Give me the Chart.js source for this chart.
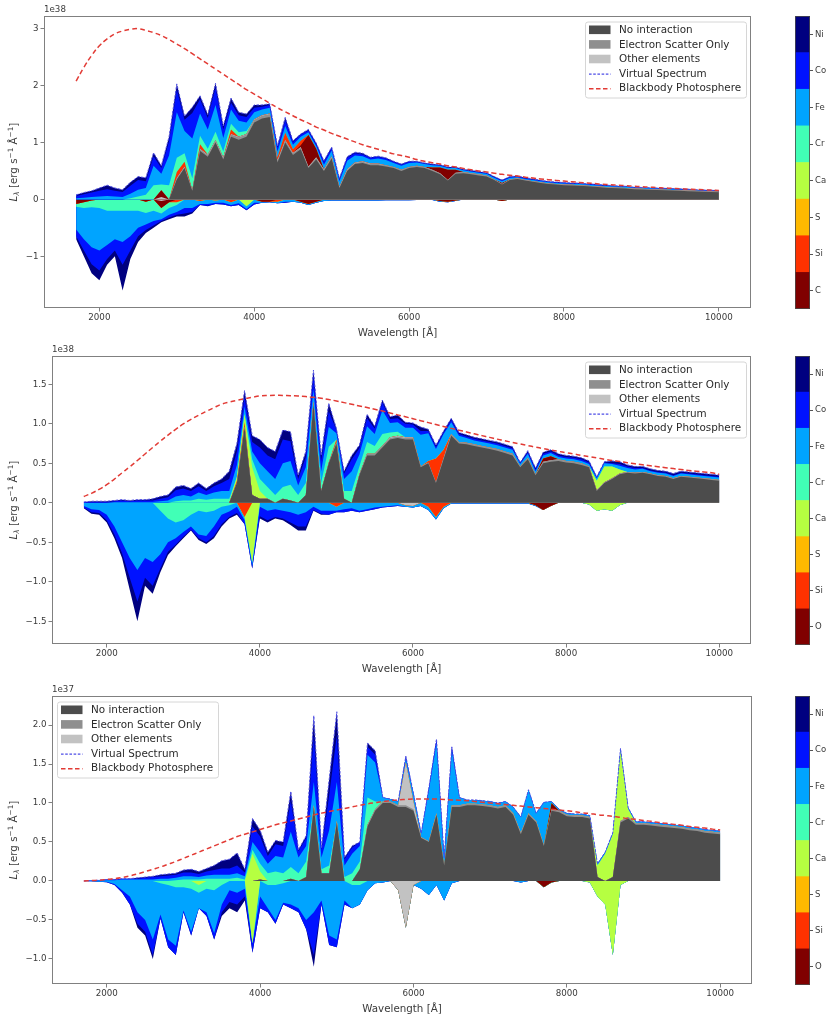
<!DOCTYPE html>
<html><head><meta charset="utf-8">
<script src="https://cdn.jsdelivr.net/npm/chart.js@4.4.1/dist/chart.umd.min.js"></script>
<style>
html,body{margin:0;padding:0;background:#fff;}
#wrap{position:relative;width:833px;height:1024px;overflow:hidden;background:#fff;}
canvas{position:absolute;}
</style></head>
<body><div id="wrap">
<canvas id="spec1" width="780" height="340" style="left:0px;top:0px;width:780px;height:340px"></canvas>
<canvas id="cbar1" width="53" height="340" style="left:780px;top:0px;width:53px;height:340px"></canvas>
<canvas id="spec2" width="780" height="340" style="left:0px;top:340px;width:780px;height:340px"></canvas>
<canvas id="cbar2" width="53" height="340" style="left:780px;top:340px;width:53px;height:340px"></canvas>
<canvas id="spec3" width="780" height="344" style="left:0px;top:680px;width:780px;height:344px"></canvas>
<canvas id="cbar3" width="53" height="344" style="left:780px;top:680px;width:53px;height:344px"></canvas>
</div>
<script>
// ---------------- DATA ----------------
const wavelengths = [
1700,1800,1900,2000,2100,2200,2300,2400,2500,2600,
2700,2800,2900,3000,3100,3200,3300,3400,3500,3600,
3700,3800,3900,4000,4100,4200,4300,4400,4500,4600,
4700,4800,4900,5000,5100,5200,5300,5400,5500,5600,
5700,5800,5900,6000,6100,6200,6300,6400,6500,6600,
6700,6800,6900,7000,7100,7200,7300,7400,7500,7600,
7700,7800,7900,8000,8100,8200,8300,8400,8500,8600,
8700,8800,8900,9000,9100,9200,9300,9400,9500,9600,
9700,9800,9900,10000];

const xTickValues = [2000,4000,6000,8000,10000];
const xTickLabels = ['2000','4000','6000','8000','10000'];

const p1YTickValues = [-1,0,1,2,3];
const p1YTickLabels = ['\u22121','0','1','2','3'];
const p2YTickValues = [-1.5,-1,-0.5,0,0.5,1,1.5];
const p2YTickLabels = ['\u22121.5','\u22121.0','\u22120.5','0.0','0.5','1.0','1.5'];
const p3YTickValues = [-1,-0.5,0,0.5,1,1.5,2];
const p3YTickLabels = ['\u22121.0','\u22120.5','0.0','0.5','1.0','1.5','2.0'];

const p1Exponent = '1e38';
const p2Exponent = '1e38';
const p3Exponent = '1e37';

const p1ColorbarLabels = ['C','Si','S','Ca','Cr','Fe','Co','Ni'];
const p2ColorbarLabels = ['O','Si','S','Ca','Cr','Fe','Co','Ni'];
const p3ColorbarLabels = ['O','Si','S','Ca','Cr','Fe','Co','Ni'];
const colorbarCells = [1,1,1,1,1,1,1,1];
const colorbarTickValues = [0.5,1.5,2.5,3.5,4.5,5.5,6.5,7.5];

const legendLabels = ['No interaction','Electron Scatter Only','Other elements','Virtual Spectrum','Blackbody Photosphere'];
const xAxisTitle = 'Wavelength [\u00c5]';

// ---- Panel 1 (units of 1e38 erg/s/A) ----
const p1Blackbody = [
2.08,2.32,2.53,2.70,2.82,2.91,2.96,2.99,3.0,2.97,
2.93,2.88,2.81,2.73,2.65,2.56,2.47,2.38,2.29,2.2,
2.11,2.02,1.93,1.85,1.77,1.69,1.61,1.54,1.47,1.40,
1.34,1.27,1.22,1.16,1.11,1.06,1.01,0.96,0.92,0.88,
0.84,0.80,0.77,0.74,0.70,0.67,0.645,0.62,0.59,0.57,
0.545,0.52,0.50,0.48,0.46,0.44,0.425,0.41,0.39,0.375,
0.36,0.347,0.334,0.322,0.31,0.298,0.288,0.277,0.267,0.258,
0.249,0.24,0.231,0.223,0.215,0.208,0.201,0.194,0.187,0.181,
0.175,0.169,0.163,0.158];
const p1NoInteraction = [
0,0,0,0,0,0,0,0,0,0,
0,0,0,0.35,0.55,0.15,0.85,0.75,1.0,0.7,
1.1,1.05,1.1,1.35,1.42,1.45,0.65,1.0,0.78,0.88,
0.55,0.7,0.5,0.72,0.2,0.5,0.62,0.64,0.6,0.6,
0.58,0.55,0.5,0.55,0.57,0.55,0.5,0.44,0.33,0.45,
0.46,0.44,0.42,0.4,0.34,0.26,0.34,0.36,0.33,0.31,
0.29,0.27,0.26,0.25,0.245,0.24,0.23,0.22,0.21,0.2,
0.195,0.19,0.18,0.175,0.17,0.165,0.16,0.155,0.15,0.145,
0.14,0.135,0.13,0.125];
const p1EScatter = [
0,0,0,0,0,0,0,0,0,0,
0,0,0,0.02,0.02,0.01,0.03,0.03,0.03,0.03,
0.04,0.04,0.04,0.05,0.05,0.05,0.03,0.04,0.03,0.03,
0.02,0.03,0.02,0.03,0.01,0.02,0.02,0.02,0.02,0.02,
0.02,0.02,0.02,0.02,0.02,0.02,0.02,0.02,0.01,0.02,
0.02,0.02,0.02,0.02,0.01,0.01,0.01,0.01,0.01,0.01,
0.01,0.01,0.01,0.01,0.01,0.01,0.01,0.01,0.01,0.01,
0.01,0.01,0.01,0.01,0.01,0.01,0.01,0.01,0.01,0.01,
0.01,0.01,0.01,0.01];
const p1Other = [
0,0,0,0,0,0,0,0,0,0,
0,0.04,0,0.01,0.01,0.01,0.01,0.01,0.01,0.01,
0.01,0.01,0.01,0.01,0.01,0.01,0.01,0.01,0.01,0.01,
0.01,0.01,0.01,0.01,0.01,0.01,0.01,0.01,0.01,0.01,
0,0,0,0,0,0,0,0,0,0,
0,0,0,0,0,0,0,0,0,0,
0,0,0,0,0,0,0,0,0,0,
0,0,0,0,0,0,0,0,0,0,
0,0,0,0];
const p1EmC = [
0,0,0,0,0,0,0,0,0,0,
0,0.12,0,0,0,0,0,0,0,0,
0,0,0,0,0,0,0,0,0,0.03,
0.55,0.15,0,0,0,0,0,0,0,0,
0,0,0,0,0,0,0.04,0.1,0.18,0.05,
0,0,0,0,0,0.02,0,0,0,0,
0,0,0,0,0,0,0,0,0,0,
0,0,0,0,0,0,0,0,0,0,
0,0,0,0];
const p1EmSi = [
0,0,0,0,0,0,0,0,0,0,
0,0,0,0.1,0.08,0,0.08,0,0,0,
0.08,0,0,0,0,0,0.05,0.12,0.06,0.08,
0,0,0,0,0,0,0,0,0,0,
0,0,0,0,0,0,0,0,0,0,
0,0,0,0,0,0,0,0,0,0,
0,0,0,0,0,0,0,0,0,0,
0,0,0,0,0,0,0,0,0,0,
0,0,0,0];
const p1EmCr = [
0,0,0,0,0,0,0,0.02,0.05,0.08,
0.25,0.1,0.25,0.25,0.15,0.2,0.15,0.1,0.15,0.1,
0.1,0.08,0.05,0,0,0,0,0,0,0,
0,0,0,0,0,0,0,0,0,0,
0,0,0,0,0,0,0,0,0,0,
0,0,0,0,0,0,0,0,0,0,
0,0,0,0,0,0,0,0,0,0,
0,0,0,0,0,0,0,0,0,0,
0,0,0,0];
const p1EmFe = [
0.02,0.03,0.04,0.05,0.06,0.05,0.04,0.08,0.12,0.12,
0.34,0.19,0.52,0.8,0.39,0.7,0.39,0.34,0.47,0.24,
0.25,0.2,0.15,0.12,0.1,0.1,0.1,0.12,0.08,0.07,
0.05,0.05,0.08,0.1,0.1,0.15,0.12,0.09,0.07,0.09,
0.09,0.07,0.07,0.07,0.06,0.05,0.04,0.03,0.03,0.03,
0.03,0.03,0.03,0.03,0.03,0.03,0.03,0.02,0.02,0.02,
0.02,0.02,0.02,0.02,0.02,0.02,0.02,0.02,0.02,0.02,
0.02,0.02,0.015,0.015,0.015,0.015,0.015,0.015,0.015,0.015,
0.01,0.01,0.01,0.01];
const p1EmCo = [
0.04,0.06,0.08,0.1,0.12,0.1,0.09,0.14,0.17,0.12,
0.17,0.1,0.25,0.4,0.2,0.45,0.25,0.2,0.3,0.15,
0.12,0.1,0.1,0.08,0.05,0.05,0.07,0.1,0.05,0.04,
0.03,0.03,0.05,0.04,0.03,0.05,0.04,0.03,0.03,0.03,
0.03,0.02,0.02,0.02,0.01,0.01,0.01,0.01,0.01,0.01,
0.01,0.01,0.01,0.01,0.01,0.01,0.01,0.01,0.01,0.01,
0.01,0.01,0.01,0.01,0.01,0.01,0.01,0.01,0.01,0.01,
0.005,0.005,0.005,0.005,0.005,0.005,0.005,0.005,0.005,0.005,
0.005,0.005,0.005,0.005];
const p1EmNi = [
0.02,0.03,0.03,0.05,0.07,0.05,0.04,0.06,0.06,0.06,
0.06,0.04,0.08,0.1,0.06,0.1,0.06,0.06,0.08,0.06,
0.08,0.05,0.05,0.05,0.03,0.02,0.03,0.05,0.02,0.01,
0.02,0.02,0.02,0.02,0.02,0.02,0.02,0.02,0.01,0.01,
0.01,0.01,0.01,0.01,0.01,0.01,0.01,0.01,0.01,0.01,
0.01,0.01,0.01,0.01,0.01,0.01,0.01,0.01,0.01,0.01,
0.005,0.005,0.005,0.005,0.005,0.005,0.005,0.005,0.005,0.005,
0.005,0.005,0.005,0.005,0.005,0.005,0.005,0.005,0.005,0.005,
0.005,0.005,0.005,0.005];
const p1AbOther = [
0,0,0,0,0,0,0,0,0,0,
0,-0.03,0,0,0,0,0,0,0,0,
0,0,0,0,0,0,0,0,0,0,
0,0,0,0,0,0,0,0,0,0,
0,0,0,0,0,0,0,0,0,0,
0,0,0,0,0,0,0,0,0,0,
0,0,0,0,0,0,0,0,0,0,
0,0,0,0,0,0,0,0,0,0,
0,0,0,0];
const p1AbC = [
-0.08,-0.05,-0.02,0,0,0,0,0,0,-0.04,
0,-0.12,-0.05,0,0,0,0,0,0,0,
0,0,0,0,-0.04,-0.04,0,0,0,-0.04,
-0.08,-0.04,0,0,0,0,0,0,0,0,
0,0,0,0,0,0,0,-0.03,-0.04,-0.02,
0,0,0,0,0,-0.03,0,0,0,0,
0,0,0,0,0,0,0,0,0,0,
0,0,0,0,0,0,0,0,0,0,
0,0,0,0];
const p1AbSi = [
0,0,0,0,0,0,0,0,0,0,
0,0,0,-0.05,0,0,-0.03,0,-0.02,0,
-0.05,0,0,0,0,0,-0.04,0,0,0,
0,0,0,0,0,0,0,0,0,0,
0,0,0,0,0,0,0,0,0,0,
0,0,0,0,0,0,0,0,0,0,
0,0,0,0,0,0,0,0,0,0,
0,0,0,0,0,0,0,0,0,0,
0,0,0,0];
const p1AbCa = [
0,0,0,0,0,0,0,0,0,0,
0,0,0,0,0,0,0,0,0,0,
0,0,-0.12,0,0,0,0,0,0,0,
0,0,0,0,0,0,0,0,0,0,
0,0,0,0,0,0,0,0,0,0,
0,0,0,0,0,0,0,0,0,0,
0,0,0,0,0,0,0,0,0,0,
0,0,0,0,0,0,0,0,0,0,
0,0,0,0];
const p1AbCr = [
-0.05,-0.1,-0.12,-0.15,-0.2,-0.2,-0.2,-0.2,-0.2,-0.2,
-0.2,-0.1,-0.1,-0.05,0,0,0,0,0,0,
0,0,0,0,0,0,0,0,0,0,
0,0,0,0,0,0,0,0,0,0,
0,0,0,0,0,0,0,0,0,0,
0,0,0,0,0,0,0,0,0,0,
0,0,0,0,0,0,0,0,0,0,
0,0,0,0,0,0,0,0,0,0,
0,0,0,0];
const p1AbFe = [
-0.4,-0.55,-0.7,-0.75,-0.6,-0.5,-0.55,-0.45,-0.3,-0.2,
-0.18,-0.1,-0.12,-0.12,-0.15,-0.15,-0.05,-0.08,-0.04,-0.06,
-0.05,-0.07,-0.05,-0.06,-0.02,-0.01,-0.03,-0.04,-0.04,-0.02,
-0.02,-0.02,-0.03,-0.02,-0.02,-0.02,-0.02,-0.02,-0.02,-0.02,
-0.015,-0.015,-0.015,-0.015,-0.01,-0.01,-0.01,-0.01,-0.01,-0.01,
0,0,0,0,0,0,0,0,0,0,
0,0,0,0,0,0,0,0,0,0,
0,0,0,0,0,0,0,0,0,0,
0,0,0,0];
const p1AbCo = [
-0.12,-0.2,-0.3,-0.35,-0.25,-0.2,-0.4,-0.25,-0.15,-0.1,
-0.08,-0.03,-0.05,-0.05,-0.1,-0.07,-0.02,-0.03,-0.02,-0.03,
-0.02,-0.03,-0.02,-0.03,0,0,0,-0.02,0,0,
0,0,0,0,0,0,0,0,0,0,
0,0,0,0,0,0,0,0,0,0,
0,0,0,0,0,0,0,0,0,0,
0,0,0,0,0,0,0,0,0,0,
0,0,0,0,0,0,0,0,0,0,
0,0,0,0];
const p1AbNi = [
-0.05,-0.1,-0.16,-0.17,-0.1,-0.1,-0.45,-0.15,-0.1,-0.05,
-0.04,-0.02,-0.03,-0.03,-0.05,-0.03,0,-0.01,0,0,
0,0,0,0,0,0,0,0,0,0,
0,0,0,0,0,0,0,0,0,0,
0,0,0,0,0,0,0,0,0,0,
0,0,0,0,0,0,0,0,0,0,
0,0,0,0,0,0,0,0,0,0,
0,0,0,0,0,0,0,0,0,0,
0,0,0,0];

// ---- Panel 2 (units of 1e38) ----
const p2Blackbody = [
0.08,0.12,0.17,0.23,0.30,0.38,0.455,0.535,0.618,0.70,
0.78,0.857,0.93,0.998,1.055,1.108,1.157,1.204,1.248,1.275,
1.297,1.317,1.335,1.352,1.358,1.36,1.359,1.356,1.351,1.344,
1.335,1.322,1.307,1.289,1.268,1.247,1.226,1.205,1.183,1.161,
1.137,1.113,1.089,1.064,1.039,1.015,0.99,0.966,0.942,0.919,
0.896,0.873,0.85,0.828,0.806,0.785,0.764,0.744,0.724,0.705,
0.686,0.668,0.651,0.634,0.618,0.601,0.585,0.568,0.552,0.536,
0.522,0.508,0.494,0.481,0.469,0.457,0.445,0.433,0.421,0.41,
0.4,0.39,0.38,0.36];
const p2NoInteraction = [
0,0,0,0,0,0,0,0,0,0,
0,0,0,0,0,0,0,0,0,0,
0.25,0.95,0.1,0.05,0.05,0,0.05,0.03,0,0.1,
1.25,0.15,0.5,0.75,0.05,0,0.35,0.6,0.6,0.7,
0.8,0.82,0.8,0.8,0.45,0.5,0.25,0.55,0.85,0.75,
0.74,0.72,0.7,0.68,0.66,0.63,0.6,0.45,0.55,0.35,
0.5,0.52,0.53,0.51,0.5,0.48,0.45,0.15,0.25,0.3,
0.36,0.38,0.37,0.38,0.36,0.34,0.33,0.3,0.33,0.32,
0.31,0.3,0.29,0.28];
const p2EScatter = [
0,0,0,0,0,0,0,0,0,0,
0,0,0,0,0,0,0,0,0,0,
0,0.02,0,0,0,0,0,0,0,0,
0.03,0,0.01,0.02,0,0,0.01,0.02,0.02,0.02,
0.02,0.02,0.02,0.02,0.01,0.01,0.01,0.02,0.02,0.02,
0.02,0.02,0.02,0.02,0.02,0.02,0.02,0.01,0.02,0.01,
0.02,0.02,0.02,0.02,0.02,0.02,0.01,0.01,0.01,0.01,
0.01,0.01,0.01,0.01,0.01,0.01,0.01,0.01,0.01,0.01,
0.01,0.01,0.01,0.01];
const p2Other = [
0,0,0,0,0,0,0,0,0,0,
0,0,0,0,0,0,0,0,0,0,
0,0,0,0,0,0,0,0,0,0,
0,0,0,0,0,0,0,0,0,0,
0.01,0.01,0.01,0.01,0,0,0,0,0,0,
0,0,0,0,0,0,0,0,0,0,
0,0,0,0,0,0,0,0,0,0,
0,0,0,0,0,0,0,0,0,0,
0,0,0,0];
const p2EmO = [
0,0,0,0,0,0,0,0,0,0,
0,0,0,0,0,0,0,0,0,0,
0,0,0,0,0,0,0,0,0,0,
0,0,0,0,0,0,0,0,0,0,
0,0,0,0,0,0,0,0,0,0,
0,0,0,0,0,0,0,0,0,0,
0.04,0.05,0,0,0,0,0,0,0,0,
0,0,0,0,0,0,0,0,0,0,
0,0,0,0];
const p2EmSi = [
0,0,0,0,0,0,0,0,0,0,
0,0,0,0,0,0,0,0,0,0,
0.03,0.05,0,0,0,0,0,0,0,0,
0,0,0,0.03,0,0,0,0,0,0,
0,0,0,0,0,0.02,0.3,0.1,0,0,
0,0,0,0,0,0,0,0,0,0,
0,0,0,0,0,0,0,0,0,0,
0,0,0,0,0,0,0,0,0,0,
0,0,0,0];
const p2EmCa = [
0,0,0,0,0,0,0,0,0,0,
0,0,0,0,0,0,0,0,0,0,
0.05,0.1,0.35,0.1,0,0,0,0,0,0,
0,0,0,0,0,0,0,0,0,0,
0,0,0,0,0,0,0,0,0,0,
0,0,0,0,0,0,0,0,0,0,
0,0,0,0,0,0,0,0.12,0.2,0.15,
0.05,0,0,0,0,0,0,0,0,0,
0,0,0,0];
const p2EmCr = [
0,0,0,0,0,0,0,0,0,0,
0,0,0.02,0.03,0.03,0.05,0.04,0.05,0.05,0.05,
0,0,0.1,0.15,0.15,0.1,0.15,0.2,0.1,0.15,
0,0.1,0.2,0,0.1,0.15,0.1,0.15,0.1,0.15,
0.06,0.05,0,0,0,0,0,0,0,0,
0,0,0,0,0,0,0,0,0,0,
0,0,0,0,0,0,0,0,0,0,
0,0,0,0,0,0,0,0,0,0,
0,0,0,0];
const p2EmFe = [
0,0,0,0,0.01,0.01,0.01,0.01,0.01,0.01,
0.02,0.03,0.06,0.07,0.05,0.08,0.06,0.08,0.1,0.1,
0.15,0.1,0.1,0.2,0.2,0.2,0.3,0.3,0.12,0.2,
0.15,0.15,0.25,0.08,0.15,0.25,0.15,0.2,0.15,0.3,
0.12,0.12,0.12,0.12,0.4,0.35,0.12,0.2,0.15,0.08,
0.06,0.05,0.05,0.05,0.05,0.05,0.05,0.03,0.05,0.04,
0.04,0.04,0.03,0.03,0.03,0.03,0.03,0.03,0.04,0.03,
0.05,0.05,0.04,0.04,0.03,0.03,0.03,0.03,0.03,0.03,
0.03,0.03,0.03,0.03];
const p2EmCo = [
0.01,0.01,0.01,0.01,0.01,0.02,0.01,0.02,0.02,0.02,
0.03,0.04,0.08,0.08,0.07,0.08,0.05,0.08,0.1,0.15,
0.17,0.12,0.12,0.2,0.2,0.25,0.3,0.25,0.08,0.13,
0.17,0.13,0.2,0.04,0.07,0.15,0.08,0.1,0.07,0.1,
0.05,0.05,0.05,0.04,0.05,0.03,0.03,0.02,0.03,0.02,
0.02,0.02,0.02,0.02,0.02,0.02,0.02,0.01,0.02,0.02,
0.02,0.02,0.02,0.02,0.02,0.02,0.02,0.01,0.01,0.01,
0.02,0.02,0.02,0.01,0.01,0.01,0.01,0.01,0.01,0.01,
0.01,0.01,0.01,0.01];
const p2EmNi = [
0,0.01,0.01,0.01,0.01,0.01,0.01,0.01,0.01,0.02,
0.03,0.03,0.04,0.04,0.03,0.04,0.03,0.04,0.05,0.1,
0.1,0.08,0.08,0.1,0.1,0.1,0.12,0.12,0.05,0.07,
0.08,0.07,0.1,0.02,0.03,0.05,0.04,0.05,0.03,0.03,
0.03,0.04,0.02,0.02,0.05,0.02,0.02,0.02,0.02,0.02,
0.02,0.02,0.02,0.02,0.02,0.02,0.02,0.01,0.02,0.02,
0.02,0.02,0.02,0.02,0.02,0.02,0.02,0.01,0.01,0.03,
0.03,0.02,0.02,0.02,0.02,0.02,0.02,0.02,0.02,0.02,
0.02,0.02,0.02,0.02];
const p2AbOther = [
0,0,0,0,0,0,0,0,0,0,
0,0,0,0,0,0,0,0,0,0,
0,0,0,0,0,0,0,0,0,0,
0,0,0,0,0,0,0,0,0,0,
0,0,-0.03,-0.04,0,0,0,0,0,0,
0,0,0,0,0,0,0,0,0,0,
0,0,0,0,0,0,0,0,0,0,
0,0,0,0,0,0,0,0,0,0,
0,0,0,0];
const p2AbO = [
0,0,0,0,0,0,0,0,0,0,
0,0,0,0,0,0,0,0,0,0,
0,0,0,0,0,0,0,0,0,0,
0,0,0,0,0,0,0,0,0,0,
0,0,0,0,0,0,0,0,0,0,
0,0,0,0,0,0,0,0,0,-0.03,
-0.09,-0.04,0,0,0,0,0,0,0,0,
0,0,0,0,0,0,0,0,0,0,
0,0,0,0];
const p2AbSi = [
0,0,0,0,0,0,0,0,0,0,
0,0,0,0,0,0,0,0,0,0,
0,-0.18,0,0,0,0,0,0,0,0,
0,0,0,-0.05,0,0,0,0,0,0,
0,0,0,0,0,-0.05,-0.18,-0.05,0,0,
0,0,0,0,0,0,0,0,0,0,
0,0,0,0,0,0,0,0,0,0,
0,0,0,0,0,0,0,0,0,0,
0,0,0,0];
const p2AbCa = [
0,0,0,0,0,0,0,0,0,0,
0,0,0,0,0,0,0,0,0,0,
0,0,-0.75,0,0,0,0,0,0,0,
0,0,0,0,0,0,0,0,0,0,
0,0,0,0,0,0,0,0,0,0,
0,0,0,0,0,0,0,0,0,0,
0,0,0,0,0,0,-0.02,-0.1,-0.08,-0.1,
-0.03,0,0,0,0,0,0,0,0,0,
0,0,0,0];
const p2AbCr = [
0,0,0,0,0,0,0,0,0,0,
-0.1,-0.2,-0.25,-0.22,-0.15,-0.1,-0.12,-0.1,-0.05,-0.03,
0,0,0,0,0,0,0,0,0,0,
0,0,0,0,0,0,0,0,0,0,
0,0,0,0,0,0,0,0,0,0,
0,0,0,0,0,0,0,0,0,0,
0,0,0,0,0,0,0,0,0,0,
0,0,0,0,0,0,0,0,0,0,
0,0,0,0];
const p2AbFe = [
-0.04,-0.08,-0.09,-0.15,-0.3,-0.5,-0.7,-0.85,-0.7,-0.75,
-0.55,-0.3,-0.2,-0.15,-0.15,-0.3,-0.3,-0.2,-0.1,-0.08,
-0.05,-0.04,-0.05,-0.05,-0.1,-0.08,-0.1,-0.12,-0.15,-0.12,
-0.05,-0.1,-0.1,-0.05,-0.08,-0.07,-0.1,-0.08,-0.06,-0.05,
-0.04,-0.03,-0.02,-0.02,-0.04,-0.04,-0.03,-0.02,-0.01,-0.01,
-0.01,-0.01,-0.01,-0.01,-0.01,-0.01,-0.01,-0.01,-0.01,-0.01,
0,0,0,0,0,0,0,0,0,0,
0,0,0,0,0,0,0,0,0,0,
0,0,0,0];
const p2AbCo = [
-0.02,-0.04,-0.04,-0.07,-0.1,-0.14,-0.25,-0.4,-0.25,-0.3,
-0.18,-0.12,-0.08,-0.06,-0.04,-0.05,-0.08,-0.12,-0.12,-0.07,
-0.08,-0.05,-0.03,-0.12,-0.12,-0.1,-0.1,-0.13,-0.15,-0.18,
-0.04,-0.04,-0.05,-0.02,-0.04,-0.03,-0.02,-0.02,-0.02,-0.01,
-0.01,-0.01,0,0,0,0,0,0,0,0,
0,0,0,0,0,0,0,0,0,0,
0,0,0,0,0,0,0,0,0,0,
0,0,0,0,0,0,0,0,0,0,
0,0,0,0];
const p2AbNi = [
-0.01,-0.02,-0.02,-0.03,-0.05,-0.06,-0.15,-0.25,-0.1,-0.1,
-0.05,-0.04,-0.02,-0.02,-0.01,-0.02,-0.02,-0.03,-0.03,-0.02,
-0.02,0,0,-0.03,-0.03,-0.02,-0.02,-0.03,-0.05,-0.05,
-0.01,-0.01,0,0,0,0,0,0,0,0,
0,0,0,0,0,0,0,0,0,0,
0,0,0,0,0,0,0,0,0,0,
0,0,0,0,0,0,0,0,0,0,
0,0,0,0,0,0,0,0,0,0,
0,0,0,0];

// ---- Panel 3 (units of 1e37) ----
const p3Blackbody = [
0.0,0.005,0.01,0.02,0.03,0.045,0.065,0.09,0.12,0.15,
0.18,0.215,0.25,0.29,0.33,0.37,0.41,0.45,0.49,0.53,
0.57,0.6,0.63,0.66,0.69,0.72,0.745,0.77,0.795,0.82,
0.845,0.87,0.89,0.91,0.93,0.95,0.97,0.99,1.005,1.02,
1.03,1.04,1.045,1.05,1.05,1.05,1.05,1.045,1.04,1.035,
1.03,1.02,1.01,1.0,0.99,0.98,0.97,0.96,0.95,0.94,
0.93,0.92,0.91,0.9,0.89,0.875,0.865,0.85,0.84,0.83,
0.815,0.8,0.79,0.776,0.765,0.75,0.74,0.725,0.715,0.7,
0.69,0.68,0.665,0.655];
const p3NoInteraction = [
0,0,0,0,0,0,0,0,0,0,
0,0,0,0,0,0,0,0,0,0,
0,0,0,0.02,0,0,0,0.03,0,0.05,
0.95,0.1,0.1,0.75,0,0,0.15,0.7,0.9,1.0,
1.0,0.95,0.95,0.9,0.55,0.5,0.85,0.2,0.95,0.95,
0.97,0.97,0.96,0.95,0.93,0.95,0.85,0.6,0.85,0.75,
0.45,0.9,0.88,0.83,0.82,0.82,0.8,0.05,0,0.05,
0.75,0.8,0.72,0.72,0.71,0.7,0.69,0.68,0.67,0.65,
0.64,0.62,0.61,0.6];
const p3EScatter = [
0,0,0,0,0,0,0,0,0,0,
0,0,0,0,0,0,0,0,0,0,
0,0,0,0,0,0,0,0,0,0,
0.02,0,0,0.02,0,0,0,0.02,0.02,0.02,
0.02,0.02,0.02,0.02,0.01,0.01,0.02,0,0.02,0.02,
0.02,0.02,0.02,0.02,0.02,0.02,0.02,0.02,0.02,0.02,
0.01,0.02,0.02,0.02,0.02,0.02,0.02,0,0,0,
0.02,0.02,0.02,0.02,0.02,0.02,0.02,0.02,0.02,0.02,
0.02,0.02,0.02,0.02];
const p3Other = [
0,0,0,0,0,0,0,0,0,0,
0,0,0,0,0,0,0,0,0,0,
0,0,0,0,0,0,0,0,0,0,
0,0,0,0,0,0,0,0,0,0,
0,0,0.55,0.1,0,0,0,0,0,0,
0,0,0,0,0,0,0,0,0,0,
0,0,0,0,0,0,0,0,0,0,
0,0,0,0,0,0,0,0,0,0,
0,0,0,0];
const p3EmO = [
0,0,0,0,0,0,0,0,0,0,
0,0,0,0,0,0,0,0,0,0,
0,0,0,0,0,0,0,0,0,0,
0,0,0,0,0,0,0,0,0,0,
0,0,0,0,0,0,0,0,0,0,
0,0,0,0,0,0,0,0,0,0,
0,0.08,0,0,0,0,0,0,0,0,
0,0,0,0,0,0,0,0,0,0,
0,0,0,0];
const p3EmCa = [
0,0,0,0,0,0,0,0,0,0,
0,0,0,0,0,0,0,0,0,0,
0,0,0.35,0.1,0,0,0,0,0,0,
0,0,0,0,0,0,0,0,0,0,
0,0,0,0,0,0,0,0,0,0,
0,0,0,0,0,0,0,0,0,0,
0,0,0,0,0,0,0,0.15,0.35,0.55,
0.9,0.1,0,0,0,0,0,0,0,0,
0,0,0,0];
const p3EmCr = [
0,0,0,0,0,0,0,0,0,0,
0,0,0.01,0.02,0.02,0.02,0.03,0.03,0.03,0.03,
0.04,0.02,0.05,0.1,0.1,0.12,0.1,0.15,0.1,0.2,
0,0.05,0.1,0,0.05,0.1,0.1,0.35,0.1,0,
0,0,0,0,0,0,0,0,0,0,
0,0,0,0,0,0,0,0,0,0,
0,0,0,0,0,0,0,0,0,0,
0,0,0,0,0,0,0,0,0,0,
0,0,0,0];
const p3EmFe = [
0,0.005,0.01,0.01,0.01,0.02,0.02,0.02,0.02,0.02,
0.03,0.03,0.03,0.04,0.04,0.03,0.04,0.05,0.05,0.05,
0.06,0.04,0.1,0.15,0.12,0.2,0.2,0.45,0.2,0.2,
0.3,0.15,0.45,0.5,0.15,0.25,0.2,0.55,0.5,0.05,
0.03,0.05,0.05,0.1,0.05,0.65,0.9,0.1,0.7,0.1,
0.05,0.05,0.05,0.05,0.05,0.05,0.08,0.2,0.3,0.1,
0.55,0.02,0.02,0.02,0.02,0.02,0.02,0.02,0.02,0.02,
0.03,0.02,0.02,0.02,0.02,0.02,0.02,0.02,0.02,0.02,
0.02,0.02,0.02,0.02];
const p3EmCo = [
0,0,0,0.01,0.01,0.01,0.01,0.01,0.02,0.03,
0.03,0.04,0.04,0.05,0.05,0.04,0.05,0.06,0.08,0.08,
0.1,0.05,0.2,0.2,0.1,0.15,0.15,0.4,0.08,0.1,
0.6,0.1,0.45,0.6,0.08,0.08,0.05,0.1,0.1,0,
0,0,0.03,0,0,0.03,0.05,0,0.05,0,
0,0,0,0,0,0,0,0,0,0,
0,0,0,0,0,0,0,0,0,0,
0,0,0,0,0,0,0,0,0,0,
0,0,0,0];
const p3EmNi = [
0,0,0,0,0,0,0,0.01,0.01,0.01,
0.02,0.02,0.02,0.03,0.04,0.03,0.04,0.06,0.1,0.12,
0.16,0.04,0.1,0.08,0.05,0.05,0.05,0.12,0.02,0.03,
0.25,0.02,0.2,0.3,0.02,0.02,0,0.05,0.05,0,
0,0,0,0,0,0,0,0,0,0,
0,0,0,0,0,0,0,0,0,0,
0,0,0,0,0,0,0,0,0,0,
0,0,0,0,0,0,0,0,0,0,
0,0,0,0];
const p3AbOther = [
0,0,0,0,0,0,0,0,0,0,
0,0,0,0,0,0,0,0,0,0,
0,0,0,0,0,0,0,0,0,0,
0,0,0,0,0,0,0,0,0,0,
0,-0.12,-0.6,-0.05,0,0,0,0,0,0,
0,0,0,0,0,0,0,0,0,0,
0,0,0,0,0,0,0,0,0,0,
0,0,0,0,0,0,0,0,0,0,
0,0,0,0];
const p3AbO = [
0,0,0,0,0,0,0,0,0,0,
0,0,0,0,0,0,0,0,0,0,
0,0,0,0,0,0,0,0,0,0,
0,0,0,0,0,0,0,0,0,0,
0,0,0,0,0,0,0,0,0,0,
0,0,0,0,0,0,0,0,0,0,
-0.08,-0.02,0,0,0,0,0,0,0,0,
0,0,0,0,0,0,0,0,0,0,
0,0,0,0];
const p3AbCa = [
0,0,0,0,0,0,0,0,0,0,
0,0,0,0,0,-0.05,0,0,0,0,
0,0,-0.8,0,0,0,0,0,0,0,
0,0,0,0,0,0,0,0,0,0,
0,0,0,0,0,0,0,0,0,0,
0,0,0,0,0,0,0,0,0,0,
0,0,0,0,0,0,-0.02,-0.2,-0.3,-0.95,
-0.05,0,0,0,0,0,0,0,0,0,
0,0,0,0];
const p3AbCr = [
0,0,0,0,0,0,0,0,0,0,
-0.03,-0.05,-0.08,-0.08,-0.1,-0.1,-0.1,-0.12,-0.05,0,
0,0,0,0,-0.05,-0.05,-0.03,0,0,0,
0,0,0,0,0,-0.05,-0.05,0,0,0,
0,0,0,0,0,0,0,0,0,0,
0,0,0,0,0,0,0,0,0,0,
0,0,0,0,0,0,0,0,0,0,
0,0,0,0,0,0,0,0,0,0,
0,0,0,0];
const p3AbFe = [
0,-0.005,-0.01,-0.01,-0.04,-0.12,-0.2,-0.4,-0.5,-0.75,
-0.4,-0.7,-0.75,-0.3,-0.55,-0.2,-0.3,-0.55,-0.25,-0.12,
-0.15,-0.1,0,-0.2,-0.3,-0.45,-0.25,-0.3,-0.35,-0.5,
-0.4,-0.25,-0.7,-0.75,-0.25,-0.3,-0.25,-0.12,-0.03,-0.02,
0,0,0,0,-0.1,-0.18,-0.05,-0.25,-0.03,0,
0,0,0,0,0,0,0,-0.02,0,0,
0,0,0,0,0,0,0,0,0,0,
0,0,0,0,0,0,0,0,0,0,
0,0,0,0];
const p3AbCo = [
0,0,0,-0.005,-0.01,-0.03,-0.1,-0.15,-0.15,-0.2,
-0.05,-0.1,-0.12,-0.02,-0.05,0,-0.05,-0.08,-0.1,-0.15,
-0.15,-0.1,-0.12,-0.15,-0.05,-0.05,-0.02,-0.05,-0.05,-0.12,
-0.55,-0.05,-0.12,-0.1,-0.05,0,0,0,0,0,
0,0,0,0,0,0,0,0,0,0,
0,0,0,0,0,0,0,0,0,0,
0,0,0,0,0,0,0,0,0,0,
0,0,0,0,0,0,0,0,0,0,
0,0,0,0];
const p3AbNi = [
0,0,0,0,0,0,0,-0.05,-0.05,-0.05,
0,0,0,0,0,0,0,0,-0.05,-0.08,
-0.1,-0.05,0,0,0,0,0,0,0,0,
-0.15,0,0,0,0,0,0,0,0,0,
0,0,0,0,0,0,0,0,0,0,
0,0,0,0,0,0,0,0,0,0,
0,0,0,0,0,0,0,0,0,0,
0,0,0,0,0,0,0,0,0,0,
0,0,0,0];

// ---------------- STYLE ----------------
const FONT = "'DejaVu Sans', 'Liberation Sans', sans-serif";
const elementColors = {C:'#800000', O:'#800000', Si:'#ff3200', S:'#ffb900', Ca:'#b6ff41', Cr:'#41ffb6', Fe:'#00a4ff', Co:'#0012ff', Ni:'#000080'};
const noIntColor = '#4c4c4c', escColor = '#8f8f8f', otherColor = '#c2c2c2';
const virtualColor = '#4d4de6', bbColor = '#e23b35';
const frameColor = '#808080', textColor = '#3a3a3a';

Chart.defaults.font.family = FONT;
Chart.defaults.color = textColor;

const panels = [
  {canvas:'spec1', cbar:'cbar1', w:780, h:340, area:{left:44, top:16, right:751, bottom:308}, yMin:-1.909, yMax:3.223,
   yTicks:p1YTickValues, yLabels:p1YTickLabels, exponent:p1Exponent, cbLabels:p1ColorbarLabels, legend:'right',
   blackbody:p1Blackbody, noInt:p1NoInteraction, esc:p1EScatter, other:p1Other, absOther:p1AbOther,
   emission:[['C',p1EmC],['Si',p1EmSi],['Cr',p1EmCr],['Fe',p1EmFe],['Co',p1EmCo],['Ni',p1EmNi]],
   absorption:[['C',p1AbC],['Si',p1AbSi],['Ca',p1AbCa],['Cr',p1AbCr],['Fe',p1AbFe],['Co',p1AbCo],['Ni',p1AbNi]]},
  {canvas:'spec2', cbar:'cbar2', w:780, h:340, area:{left:52, top:16, right:751, bottom:304}, yMin:-1.787, yMax:1.858,
   yTicks:p2YTickValues, yLabels:p2YTickLabels, exponent:p2Exponent, cbLabels:p2ColorbarLabels, legend:'right',
   blackbody:p2Blackbody, noInt:p2NoInteraction, esc:p2EScatter, other:p2Other, absOther:p2AbOther,
   emission:[['O',p2EmO],['Si',p2EmSi],['Ca',p2EmCa],['Cr',p2EmCr],['Fe',p2EmFe],['Co',p2EmCo],['Ni',p2EmNi]],
   absorption:[['O',p2AbO],['Si',p2AbSi],['Ca',p2AbCa],['Cr',p2AbCr],['Fe',p2AbFe],['Co',p2AbCo],['Ni',p2AbNi]]},
  {canvas:'spec3', cbar:'cbar3', w:780, h:344, area:{left:52, top:16, right:752, bottom:304}, yMin:-1.321, yMax:2.372,
   yTicks:p3YTickValues, yLabels:p3YTickLabels, exponent:p3Exponent, cbLabels:p3ColorbarLabels, legend:'left',
   blackbody:p3Blackbody, noInt:p3NoInteraction, esc:p3EScatter, other:p3Other, absOther:p3AbOther,
   emission:[['O',p3EmO],['Ca',p3EmCa],['Cr',p3EmCr],['Fe',p3EmFe],['Co',p3EmCo],['Ni',p3EmNi]],
   absorption:[['O',p3AbO],['Ca',p3AbCa],['Cr',p3AbCr],['Fe',p3AbFe],['Co',p3AbCo],['Ni',p3AbNi]]}
];

function pts(arr){ return arr.map((v,i)=>({x:wavelengths[i], y:v})); }

function drawYTitle(ctx, cx, cy){
  const big = 10.3, small = 7.3;
  const parts = [
    {t:'L', f:`italic ${big}px ${FONT}`, dy:0},
    {t:'\u03bb', f:`italic ${small}px ${FONT}`, dy:2.4},
    {t:' [erg s', f:`${big}px ${FONT}`, dy:0},
    {t:'\u22121', f:`${small}px ${FONT}`, dy:-4.2},
    {t:' \u00c5', f:`${big}px ${FONT}`, dy:0},
    {t:'\u22121', f:`${small}px ${FONT}`, dy:-4.2},
    {t:']', f:`${big}px ${FONT}`, dy:0}];
  ctx.save();
  ctx.translate(cx, cy); ctx.rotate(-Math.PI/2);
  let W = 0; parts.forEach(p=>{ ctx.font = p.f; p.w = ctx.measureText(p.t).width; W += p.w; });
  let x = -W/2;
  ctx.fillStyle = textColor; ctx.textBaseline = 'alphabetic'; ctx.textAlign = 'left';
  parts.forEach(p=>{ ctx.font = p.f; ctx.fillText(p.t, x, 3.7 + p.dy); x += p.w; });
  ctx.restore();
}

function drawLegend(ctx, a, side){
  const w = 161, h = 76;
  const left = side === 'right' ? a.right - 5 - w : a.left + 5;
  const top = a.top + 5.5;
  ctx.save();
  ctx.beginPath();
  if (ctx.roundRect) ctx.roundRect(left+0.5, top+0.5, w, h, 2.5); else ctx.rect(left+0.5, top+0.5, w, h);
  ctx.fillStyle = 'rgba(255,255,255,0.85)'; ctx.fill();
  ctx.strokeStyle = '#d6d6d6'; ctx.lineWidth = 1; ctx.stroke();
  const handles = [
    {kind:'patch', color:noIntColor}, {kind:'patch', color:escColor}, {kind:'patch', color:otherColor},
    {kind:'line', color:virtualColor, dash:[2.6,1.6], lw:1.1}, {kind:'line', color:bbColor, dash:[4.5,2.5], lw:1.5}];
  ctx.font = `10.4px ${FONT}`; ctx.textBaseline = 'middle'; ctx.textAlign = 'left';
  handles.forEach((hd, k)=>{
    const y = top + 8.3 + k*14.6;
    if (hd.kind === 'patch') { ctx.fillStyle = hd.color; ctx.fillRect(left+4, y-4.3, 21.5, 8.6); }
    else { ctx.beginPath(); ctx.setLineDash(hd.dash); ctx.strokeStyle = hd.color; ctx.lineWidth = hd.lw;
      ctx.moveTo(left+4, y+0.5); ctx.lineTo(left+25.5, y+0.5); ctx.stroke(); ctx.setLineDash([]); }
    ctx.fillStyle = '#2a2a2a';
    ctx.fillText(legendLabels[k], left+34, y+0.5);
  });
  ctx.restore();
}

function buildPanel(p){
  const emLayers = [
    {data:p.noInt, color:noIntColor}, {data:p.esc, color:escColor}, {data:p.other, color:otherColor},
    ...p.emission.map(([el, arr])=>({data:arr, color:elementColors[el]}))];
  const abLayers = [
    {data:p.absOther, color:otherColor},
    ...p.absorption.map(([el, arr])=>({data:arr, color:elementColors[el]}))];
  const virtual = wavelengths.map((_, i)=> emLayers.reduce((s, l)=> s + l.data[i], 0));
  const datasets = [
    {label:'Blackbody Photosphere', data:pts(p.blackbody), stack:'bb', borderColor:bbColor, borderWidth:1.5, borderDash:[5,3],
     fill:false, pointRadius:0, tension:0.4, order:0},
    {label:'Virtual Spectrum', data:pts(virtual), stack:'vs', borderColor:virtualColor, borderWidth:1, borderDash:[2.5,1.5],
     fill:false, pointRadius:0, tension:0, order:0}];
  emLayers.forEach(l=>datasets.push({data:pts(l.data), stack:'em', fill:'origin', backgroundColor:l.color,
     borderColor:'rgba(0,0,0,0)', borderWidth:0, pointRadius:0, tension:0, order:1}));
  abLayers.forEach(l=>datasets.push({data:pts(l.data), stack:'ab', fill:'origin', backgroundColor:l.color,
     borderColor:'rgba(0,0,0,0)', borderWidth:0, pointRadius:0, tension:0, order:1}));

  const deco = {
    id:'deco',
    afterDraw(chart){
      const ctx = chart.ctx, a = chart.chartArea;
      ctx.save();
      ctx.strokeStyle = frameColor; ctx.lineWidth = 1;
      ctx.strokeRect(a.left+0.5, a.top+0.5, a.right-a.left-1, a.bottom-a.top-1);
      ctx.fillStyle = textColor; ctx.font = `8.7px ${FONT}`; ctx.textAlign = 'left'; ctx.textBaseline = 'bottom';
      ctx.fillText(p.exponent, a.left, a.top - 2);
      ctx.font = `10.3px ${FONT}`; ctx.textAlign = 'center'; ctx.textBaseline = 'middle';
      ctx.fillText(xAxisTitle, (a.left+a.right)/2, a.bottom + 25);
      ctx.restore();
      drawYTitle(ctx, 13, (a.top+a.bottom)/2);
      drawLegend(ctx, a, p.legend);
    }
  };

  new Chart(document.getElementById(p.canvas), {
    type:'line',
    data:{datasets},
    options:{
      responsive:false, animation:false, devicePixelRatio:1, events:[],
      layout:{padding:{left:0, top:p.area.top, right:p.w - p.area.right, bottom:0}},
      plugins:{legend:{display:false}, tooltip:{enabled:false}},
      scales:{
        x:{type:'linear', min:1285, max:10415,
           afterBuildTicks:s=>{ s.ticks = xTickValues.map(v=>({value:v})); },
           afterFit:s=>{ s.height = p.h - p.area.bottom; },
           ticks:{callback:(v,i)=>xTickLabels[i], font:{size:8.7, family:FONT}, color:textColor, maxRotation:0, autoSkip:false, padding:1},
           grid:{drawOnChartArea:false, drawTicks:true, tickLength:3.5, color:frameColor, lineWidth:1},
           border:{display:false}},
        y:{type:'linear', stacked:true, min:p.yMin, max:p.yMax,
           afterBuildTicks:s=>{ s.ticks = p.yTicks.map(v=>({value:v})); },
           afterFit:s=>{ s.width = p.area.left; },
           ticks:{callback:(v,i)=>p.yLabels[i], font:{size:8.7, family:FONT}, color:textColor, autoSkip:false, padding:2},
           grid:{drawOnChartArea:false, drawTicks:true, tickLength:3.5, color:frameColor, lineWidth:1},
           border:{display:false}}
      }
    },
    plugins:[deco]
  });

  const cbFrame = {
    id:'cbframe',
    afterDraw(chart){
      const ctx = chart.ctx, a = chart.chartArea;
      ctx.save(); ctx.strokeStyle = '#4a4a4a'; ctx.lineWidth = 0.8;
      ctx.strokeRect(a.left+0.4, a.top+0.4, a.right-a.left-0.8, a.bottom-a.top-0.8); ctx.restore();
    }
  };
  new Chart(document.getElementById(p.cbar), {
    type:'bar',
    data:{labels:[''], datasets:p.cbLabels.map((el,i)=>({label:el, data:[colorbarCells[i]], backgroundColor:elementColors[el],
      borderWidth:0, barPercentage:1, categoryPercentage:1}))},
    options:{
      responsive:false, animation:false, devicePixelRatio:1, events:[],
      layout:{padding:{left:15, top:p.area.top, right:0, bottom:p.h - p.area.bottom - 1}},
      plugins:{legend:{display:false}, tooltip:{enabled:false}},
      scales:{
        x:{display:false, stacked:true},
        y:{position:'right', stacked:true, min:0, max:8,
           afterBuildTicks:s=>{ s.ticks = colorbarTickValues.map(v=>({value:v})); },
           afterFit:s=>{ s.width = 23; },
           ticks:{callback:(v,i)=>p.cbLabels[i], font:{size:8.5, family:FONT}, color:textColor, autoSkip:false, padding:2},
           grid:{drawOnChartArea:false, drawTicks:true, tickLength:3, color:'#555'},
           border:{display:false}}
      }
    },
    plugins:[cbFrame]
  });
}

panels.forEach(buildPanel);
</script>
</body></html>
